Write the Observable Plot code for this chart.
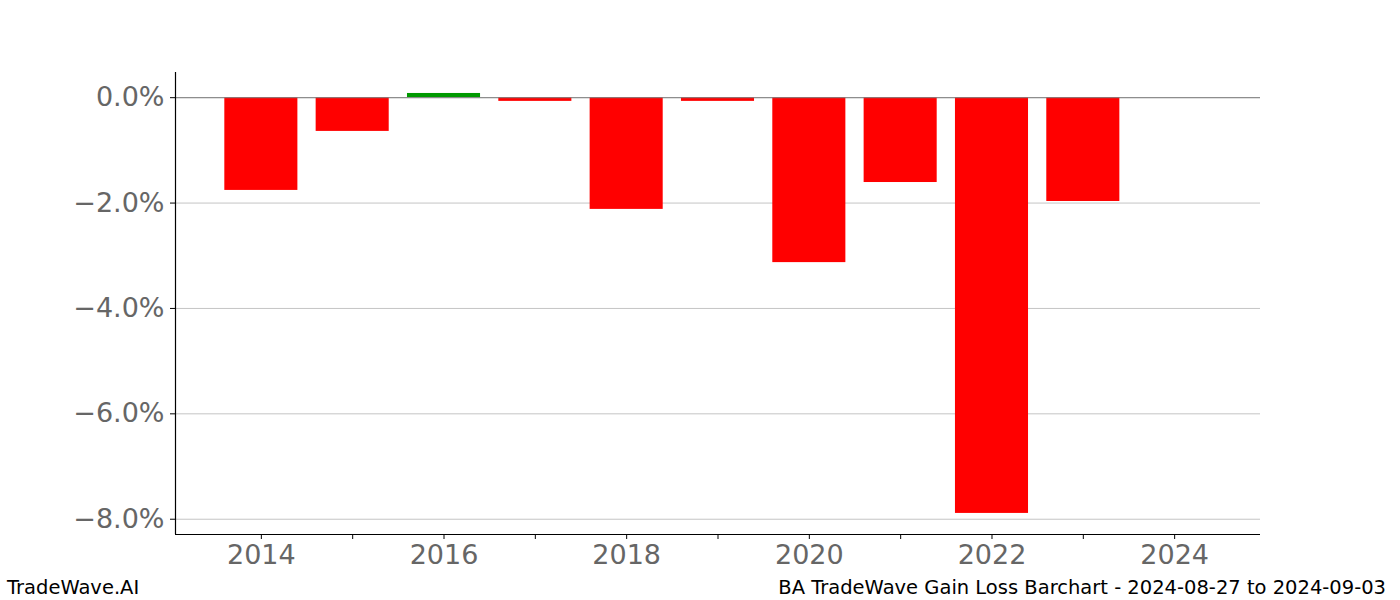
<!DOCTYPE html>
<html>
<head>
<meta charset="utf-8">
<script src="https://cdn.jsdelivr.net/npm/d3@7"></script>
<script src="https://cdn.jsdelivr.net/npm/@observablehq/plot@0.6"></script>
<style>
  html, body { margin: 0; padding: 0; background: #fff; }
  #wrap { position: relative; width: 1400px; height: 600px; font-family: "DejaVu Sans", sans-serif; }
  #chart svg { display: block; }
  .foot { position: absolute; font-size: 19.5px; color: #000; white-space: nowrap; line-height: 1; }
</style>
</head>
<body>
<div id="wrap">
  <div id="chart"></div>
  <div class="foot" id="left">TradeWave.AI</div>
  <div class="foot" id="right">BA TradeWave Gain Loss Barchart - 2024-08-27 to 2024-09-03</div>
</div>
<script>
const years = [2014, 2015, 2016, 2017, 2018, 2019, 2020, 2021, 2022, 2023, 2024];
const values = [-1.76, -0.64, 0.08, -0.07, -2.12, -0.07, -3.13, -1.61, -7.89, -1.97, 0];
const yTicks = [0, -2, -4, -6, -8];
const xMajorTicks = [2014, 2016, 2018, 2020, 2022, 2024];
const xMinorTicks = [2015, 2017, 2019, 2021, 2023];

const data = years.map((y, i) => ({year: y, value: values[i]}));
const xDomain = [2013.06, 2024.94];
const yDomain = [-8.29, 0.478];
const fmt = d => (d < 0 ? "\u2212" : "") + Math.abs(d).toFixed(1) + "%";

const plot = Plot.plot({
  width: 1400,
  height: 600,
  marginLeft: 175,
  marginRight: 140,
  marginTop: 72,
  marginBottom: 66,
  style: {fontFamily: "DejaVu Sans, sans-serif", background: "#fff"},
  x: {domain: xDomain},
  y: {domain: yDomain},
  marks: [
    Plot.gridY(yTicks, {stroke: "#c4c4c4", strokeOpacity: 1, strokeWidth: 1}),
    Plot.rect(data.filter(d => d.value !== 0), {
      x1: d => d.year - 0.4,
      x2: d => d.year + 0.4,
      y1: 0,
      y2: "value",
      fill: d => d.value >= 0 ? "#009900" : "#ff0000"
    }),
    Plot.ruleY([0], {stroke: "#808080", strokeWidth: 1}),
    Plot.ruleX([xDomain[0]], {stroke: "#000", strokeWidth: 1.2}),
    Plot.ruleY([yDomain[0]], {stroke: "#000", strokeWidth: 1.2}),
    Plot.axisY(yTicks, {
      tickFormat: fmt, tickSize: 5, tickPadding: 6,
      fontSize: 27, color: "#666", stroke: "#000", label: null
    }),
    Plot.axisX(xMajorTicks, {
      tickFormat: d => String(d), tickSize: 5, tickPadding: 5,
      fontSize: 27, color: "#666", stroke: "#000", label: null
    }),
    Plot.axisX(xMinorTicks, {
      tickFormat: () => "", tickSize: 5, stroke: "#000", label: null
    })
  ]
});
document.getElementById("chart").appendChild(plot);

const L = document.getElementById("left");
L.style.left = "7px"; L.style.top = "578px";
const R = document.getElementById("right");
R.style.right = "14px"; R.style.top = "578px";
</script>
</body>
</html>
